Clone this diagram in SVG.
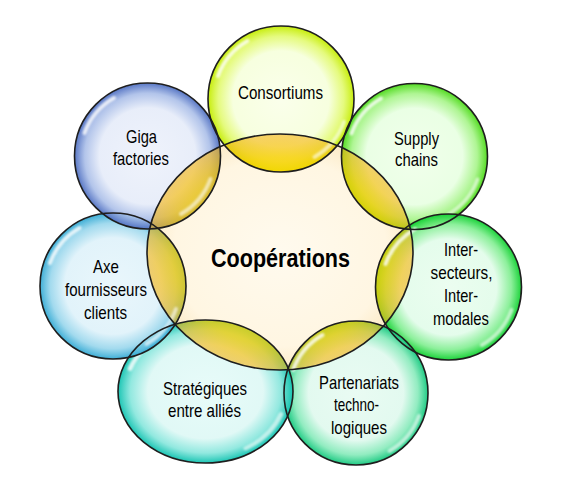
<svg xmlns="http://www.w3.org/2000/svg" xmlns:xlink="http://www.w3.org/1999/xlink" width="573" height="485" viewBox="0 0 573 485">
<style>
.t{font-family:"Liberation Sans",Arial,sans-serif;font-size:18.5px;fill:#000;text-anchor:middle}
.tb{font-family:"Liberation Sans",Arial,sans-serif;font-size:26px;font-weight:bold;fill:#000;text-anchor:middle}
.rim{fill:none;stroke:#1e1e1e;stroke-width:1.6}
.lens{fill:url(#lensG)}
.hl{fill:none;stroke:#fff;stroke-width:4;stroke-linecap:round;filter:url(#soft)}
</style>
<defs>
<filter id="soft" x="-20%" y="-20%" width="140%" height="140%"><feGaussianBlur stdDeviation="1"/></filter>
<clipPath id="inC"><ellipse cx="280" cy="252" rx="133" ry="118"/></clipPath>
<radialGradient id="cenG" cx="50%" cy="50%" r="50%">
<stop offset="0" stop-color="#FFFAEE"/><stop offset="0.8" stop-color="#FFF6E2"/><stop offset="1" stop-color="#FCEBC8"/>
</radialGradient>
<radialGradient id="lensG" gradientUnits="userSpaceOnUse" cx="280" cy="252" r="133" gradientTransform="translate(280 252) scale(1 0.887) translate(-280 -252)">
<stop offset="0.6" stop-color="#FFD400" stop-opacity="0.78"/><stop offset="0.8" stop-color="#FCCB00" stop-opacity="0.74"/><stop offset="1" stop-color="#F4B418" stop-opacity="0.6"/>
</radialGradient>
<radialGradient id="g1" cx="50%" cy="50%" r="50%"><stop offset="0" stop-color="#FAFFEA" stop-opacity="0.94"/><stop offset="0.66" stop-color="#F6FFDC" stop-opacity="0.92"/><stop offset="0.86" stop-color="#E2FA70" stop-opacity="0.9"/><stop offset="1" stop-color="#C4EC00" stop-opacity="0.95"/></radialGradient>
<radialGradient id="g2" cx="50%" cy="50%" r="50%"><stop offset="0" stop-color="#F0FFEA" stop-opacity="0.94"/><stop offset="0.66" stop-color="#E8FFE2" stop-opacity="0.92"/><stop offset="0.86" stop-color="#A6F488" stop-opacity="0.9"/><stop offset="1" stop-color="#4CDA18" stop-opacity="0.95"/></radialGradient>
<radialGradient id="g3" cx="50%" cy="50%" r="50%"><stop offset="0" stop-color="#EAFDEF" stop-opacity="0.94"/><stop offset="0.66" stop-color="#E2FCEA" stop-opacity="0.92"/><stop offset="0.86" stop-color="#80EE90" stop-opacity="0.9"/><stop offset="1" stop-color="#10D030" stop-opacity="0.95"/></radialGradient>
<radialGradient id="g4" cx="50%" cy="50%" r="50%"><stop offset="0" stop-color="#E8FBF2" stop-opacity="0.94"/><stop offset="0.66" stop-color="#E0F9EE" stop-opacity="0.92"/><stop offset="0.86" stop-color="#86EABA" stop-opacity="0.9"/><stop offset="1" stop-color="#14C87E" stop-opacity="0.95"/></radialGradient>
<radialGradient id="g5" cx="50%" cy="50%" r="50%"><stop offset="0" stop-color="#E6FBF9" stop-opacity="0.94"/><stop offset="0.66" stop-color="#DEF8F5" stop-opacity="0.92"/><stop offset="0.86" stop-color="#86E6DC" stop-opacity="0.9"/><stop offset="1" stop-color="#10C2B0" stop-opacity="0.95"/></radialGradient>
<radialGradient id="g6" cx="50%" cy="50%" r="50%"><stop offset="0" stop-color="#E8F6FB" stop-opacity="0.94"/><stop offset="0.66" stop-color="#DFF2FA" stop-opacity="0.92"/><stop offset="0.86" stop-color="#98D6EC" stop-opacity="0.9"/><stop offset="1" stop-color="#34AAD4" stop-opacity="0.95"/></radialGradient>
<radialGradient id="g7" cx="50%" cy="50%" r="50%"><stop offset="0" stop-color="#EEF2FB" stop-opacity="0.94"/><stop offset="0.66" stop-color="#E6ECF9" stop-opacity="0.92"/><stop offset="0.86" stop-color="#AABEE8" stop-opacity="0.9"/><stop offset="1" stop-color="#5070C2" stop-opacity="0.95"/></radialGradient>
<path id="hlA" class="hl" d="M -63,-23 A 67 67 0 0 1 -33.5,-58" opacity="0.8"/>
<path id="hlB" class="hl" d="M 63,23 A 67 67 0 0 1 33.5,58" opacity="0.6"/>
</defs>

<g id="center">
<ellipse cx="280" cy="252" rx="133" ry="118" fill="url(#cenG)"/>
<text class="tb" x="280.5" y="267" textLength="139" lengthAdjust="spacingAndGlyphs">Coopérations</text>
</g>

<g id="node-consortiums">
<circle cx="281" cy="99" r="73" fill="url(#g1)"/>
<circle class="lens" cx="281" cy="99" r="73" clip-path="url(#inC)"/>
<use xlink:href="#hlA" transform="translate(281 99)"/><use xlink:href="#hlB" transform="translate(281 99)"/>
<text class="t" x="280.5" y="99" textLength="85" lengthAdjust="spacingAndGlyphs">Consortiums</text>
</g>

<g id="node-supply">
<circle cx="414.5" cy="156.5" r="73" fill="url(#g2)"/>
<circle class="lens" cx="414.5" cy="156.5" r="73" clip-path="url(#inC)"/>
<use xlink:href="#hlA" transform="translate(414.5 156.5)"/><use xlink:href="#hlB" transform="translate(414.5 156.5)"/>
<text class="t" x="416.5" y="145" textLength="45" lengthAdjust="spacingAndGlyphs">Supply</text>
<text class="t" x="416.5" y="166" textLength="43" lengthAdjust="spacingAndGlyphs">chains</text>
</g>

<g id="node-inter">
<circle cx="448.5" cy="287" r="73" fill="url(#g3)"/>
<circle class="lens" cx="448.5" cy="287" r="73" clip-path="url(#inC)"/>
<use xlink:href="#hlA" transform="translate(448.5 287)"/><use xlink:href="#hlB" transform="translate(448.5 287)"/>
<text class="t" x="461" y="256" textLength="34" lengthAdjust="spacingAndGlyphs">Inter-</text>
<text class="t" x="461.5" y="279" textLength="62" lengthAdjust="spacingAndGlyphs">secteurs,</text>
<text class="t" x="461" y="302" textLength="34" lengthAdjust="spacingAndGlyphs">Inter-</text>
<text class="t" x="461" y="325" textLength="56" lengthAdjust="spacingAndGlyphs">modales</text>
</g>

<g id="node-partenariats">
<circle cx="356" cy="393" r="72" fill="url(#g4)"/>
<circle class="lens" cx="356" cy="393" r="72" clip-path="url(#inC)"/>
<use xlink:href="#hlA" transform="translate(356 393)"/><use xlink:href="#hlB" transform="translate(356 393)"/>
<text class="t" x="359" y="389" textLength="80" lengthAdjust="spacingAndGlyphs">Partenariats</text>
<text class="t" x="356.5" y="411" textLength="45" lengthAdjust="spacingAndGlyphs">techno-</text>
<text class="t" x="359" y="434" textLength="56" lengthAdjust="spacingAndGlyphs">logiques</text>
</g>

<g id="node-strategiques">
<ellipse cx="205.5" cy="391.5" rx="87.5" ry="71.5" fill="url(#g5)"/>
<ellipse class="lens" cx="205.5" cy="391.5" rx="87.5" ry="71.5" clip-path="url(#inC)"/>
<use xlink:href="#hlA" transform="translate(205.5 391.5) scale(1.2 0.98)"/><use xlink:href="#hlB" transform="translate(205.5 391.5) scale(1.2 0.98)"/>
<text class="t" x="205" y="395" textLength="84" lengthAdjust="spacingAndGlyphs">Stratégiques</text>
<text class="t" x="204.5" y="417" textLength="73" lengthAdjust="spacingAndGlyphs">entre alliés</text>
</g>

<g id="node-axe">
<circle cx="113" cy="286" r="73" fill="url(#g6)"/>
<circle class="lens" cx="113" cy="286" r="73" clip-path="url(#inC)"/>
<use xlink:href="#hlA" transform="translate(113 286)"/><use xlink:href="#hlB" transform="translate(113 286)"/>
<text class="t" x="106" y="273" textLength="26" lengthAdjust="spacingAndGlyphs">Axe</text>
<text class="t" x="106" y="296" textLength="82" lengthAdjust="spacingAndGlyphs">fournisseurs</text>
<text class="t" x="105.5" y="319" textLength="43" lengthAdjust="spacingAndGlyphs">clients</text>
</g>

<g id="node-giga">
<circle cx="147.5" cy="156" r="73" fill="url(#g7)"/>
<circle class="lens" cx="147.5" cy="156" r="73" clip-path="url(#inC)"/>
<use xlink:href="#hlA" transform="translate(147.5 156)"/><use xlink:href="#hlB" transform="translate(147.5 156)"/>
<text class="t" x="141.5" y="143" textLength="31" lengthAdjust="spacingAndGlyphs">Giga</text>
<text class="t" x="141" y="165" textLength="56" lengthAdjust="spacingAndGlyphs">factories</text>
</g>

<g id="rims">
<ellipse class="rim" cx="280" cy="252" rx="133" ry="118"/>
<circle class="rim" cx="281" cy="99" r="73"/>
<circle class="rim" cx="414.5" cy="156.5" r="73"/>
<circle class="rim" cx="448.5" cy="287" r="73"/>
<circle class="rim" cx="356" cy="393" r="72"/>
<ellipse class="rim" cx="205.5" cy="391.5" rx="87.5" ry="71.5"/>
<circle class="rim" cx="113" cy="286" r="73"/>
<circle class="rim" cx="147.5" cy="156" r="73"/>
</g>
</svg>
